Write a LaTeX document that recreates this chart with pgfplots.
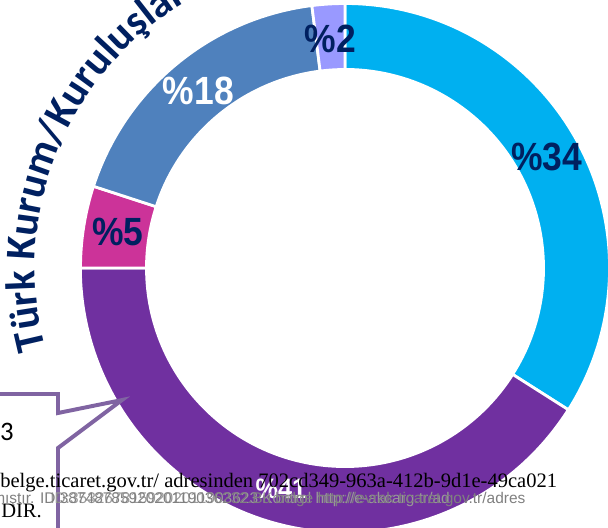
\documentclass[border=0pt]{standalone}
\usepackage{fontspec}
\usepackage{pgfplots}
\pgfplotsset{compat=1.18}
\usepackage{pgfplotstable}
\usetikzlibrary{decorations.text}
\newfontfamily\carlito{Carlito}
\newfontfamily\lsans{Liberation Sans}
\newfontfamily\lserif{Liberation Serif}
\definecolor{cBlue}{HTML}{00B0F0}
\definecolor{cPurple}{HTML}{7030A0}
\definecolor{cMagenta}{HTML}{CC3399}
\definecolor{cSteel}{HTML}{4F81BD}
\definecolor{cLav}{HTML}{9999FF}
\definecolor{navy}{HTML}{002060}
\definecolor{callout}{HTML}{8064A2}

\pgfplotstableread{
idx value
0 34
1 41
2 5
3 18
4 2
}\slices

\begin{document}
\begin{tikzpicture}
\begin{axis}[at={(0,0)}, anchor=south west, x=0.025cm, y=0.025cm,
  xmin=0, xmax=608, ymin=0, ymax=528, y dir=reverse, hide axis, clip=true]
\pgfplotsextra{%
  \gdef\cum{0}%
  \foreach \i/\col/\tcol/\fs in {0/cBlue/navy/28,1/cPurple/white/20,2/cMagenta/navy/28,3/cSteel/white/28,4/cLav/navy/28}{%
    \pgfplotstablegetelem{\i}{value}\of\slices
    \edef\v{\pgfplotsretval}%
    \pgfmathsetmacro\sa{90-3.6*\cum}%
    \pgfmathsetmacro\ea{90-3.6*(\cum+\v)}%
    \pgfmathsetmacro\ma{(\sa+\ea)/2}%
    \pgfmathsetmacro\xa{345+264.5*cos(\sa)}%
    \pgfmathsetmacro\ya{268-264.5*sin(\sa)}%
    \pgfmathsetmacro\xb{345+198.5*cos(\ea)}%
    \pgfmathsetmacro\yb{268-198.5*sin(\ea)}%
    \pgfmathsetmacro\lx{345+230*cos(\ma)}%
    \pgfmathsetmacro\ly{268-230*sin(\ma)}%
    \pgfmathsetmacro\nc{\cum+\v}%
    \xdef\cum{\nc}%
    \fill[\col, draw=white, line width=2pt] (axis cs:\xa,\ya) arc[start angle=\sa, end angle=\ea, radius=6.6125cm]
      -- (axis cs:\xb,\yb) arc[start angle=\ea, end angle=\sa, radius=4.9625cm] -- cycle;
    \node[text=\tcol, font=\lsans\bfseries\fontsize{\fs}{\fs}\selectfont, inner sep=0pt] at (axis cs:\lx,\ly) {\scalebox{0.9}[1]{\%\v}};
  }%
  % curved title
  \path[decorate, decoration={text along path, text align=left,
     text={|\carlito\bfseries\fontsize{30}{30}\selectfont\color{navy}|Türk Kurum/Kuruluşları}}]
     (axis cs:45.6,348.2) arc[start angle=195, end angle=85, radius=7.75cm];
  % callout
  \draw[callout, line width=2.8pt, line join=miter, fill=white] (axis cs:-10,394) -- (axis cs:58,394) -- (axis cs:58,413) -- (axis cs:122,400) -- (axis cs:58,448) -- (axis cs:58,540) -- (axis cs:-10,540);
  \node[anchor=base east, inner sep=0pt, font=\carlito\fontsize{19}{19}\selectfont] at (axis cs:14,440) {3};
  % overlay text
  \node[anchor=base west, inner sep=0pt, text=gray!80, font=\lsans\fontsize{11}{11}\selectfont] at (axis cs:50,503) {ID:3532678159202011903623 Kontrol http://e-akcarg.tr/ad};
  \node[anchor=base west, inner sep=0pt, text=gray, font=\lsans\fontsize{11}{11}\selectfont] at (axis cs:-8,503) {mıştır. ID:3874878592020119036232.Bu belge http://evrak.ticaret.gov.tr/adres};
  \node[anchor=base west, inner sep=0pt, font=\lserif\fontsize{14.6}{15}\selectfont] at (axis cs:0,487) {belge.ticaret.gov.tr/ adresinden 702cd349-963a-412b-9d1e-49ca021};
  \node[anchor=base west, inner sep=0pt, font=\lserif\fontsize{14.6}{15}\selectfont] at (axis cs:1,517) {DIR.};
}
\end{axis}
\pgfresetboundingbox
\path[use as bounding box] (current axis.south west) rectangle (current axis.north east);
\end{tikzpicture}
\end{document}
